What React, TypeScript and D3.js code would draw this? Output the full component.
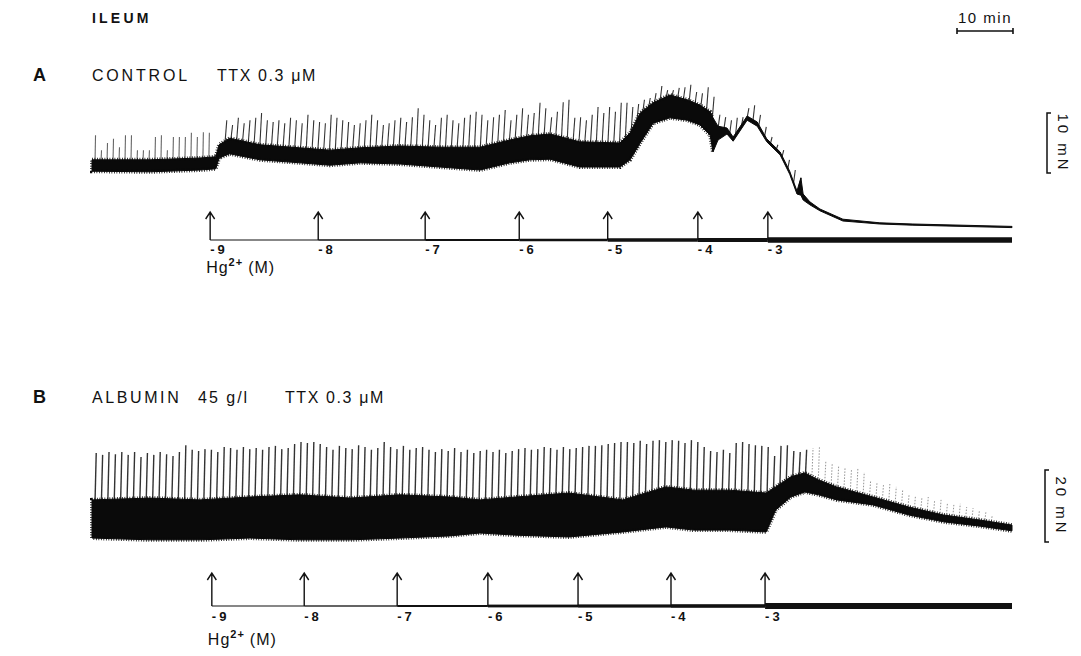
import { useEffect, useRef } from "react";
import * as d3 from "d3";

// time in minutes from the start of each record, force in mN
const doseLabels = ["-9", "-8", "-7", "-6", "-5", "-4", "-3"];
const doseTimesA = [21.1, 40.4, 59.5, 76.3, 92.1, 108.2, 120.7];
const doseTimesB = [21.4, 37.9, 54.5, 70.7, 86.8, 103.4, 120.2];
const recordEnd = 164.3;

// panel A: envelope of the fast tone band
const bandTimeA = [0, 10.4, 19.3, 22.1, 22.7, 24.6, 30, 37.1, 42.5, 47.9, 55, 62.1, 69.3, 74.6, 78.2, 81.8, 87.1, 94.3, 96.1, 97.9, 100.2, 103.2, 106.3, 108.6, 110.4, 110.9, 111.8, 113.4, 114.5, 117, 118.8, 120.5, 122.9, 124.6, 125.9, 126.6, 127, 128.2, 130, 134.1, 140.7, 146.6, 164.3];
const bandTopA = [11.7, 11.7, 12.0, 12.2, 14.2, 15.3, 14.2, 13.7, 13.3, 13.7, 14.0, 13.8, 13.8, 15.0, 15.7, 16.0, 14.7, 14.5, 16.2, 19.5, 21.2, 22.5, 21.7, 20.8, 19.7, 18.7, 17.3, 17.0, 15.5, 19.0, 18.0, 15.2, 13.0, 9.8, 6.5, 8.7, 6.0, 4.7, 3.5, 1.8, 1.2, 1.0, 0.6];
const bandBottomA = [9.8, 9.7, 10.0, 10.2, 12.0, 12.7, 11.7, 11.2, 10.8, 11.2, 11.0, 10.5, 10.0, 11.2, 11.7, 11.8, 10.5, 10.5, 11.7, 14.5, 17.8, 18.7, 18.3, 17.5, 15.8, 13.0, 15.0, 16.0, 14.8, 18.3, 17.3, 14.7, 12.5, 9.3, 6.0, 5.8, 5.0, 4.2, 3.2, 1.5, 1.0, 0.8, 0.4];

// panel A: phasic contractions (peak force), before and after the step
const preSpikeStartA = 0.54;
const preSpikeIntervalA = 1.07;
const preSpikeTipsA = [15.8, 13.3, 14.5, 15.2, 13.8, 15.8, 15.8, 13.3, 13.3, 13.3, 15.5, 15.8, 13.3, 15.5, 15.5, 15.5, 16.2, 15.5, 16.3, 16.2];
const spikeStartA = 23.75;
const spikeIntervalA = 1.036;
const spikeTipsA = [
  18.3, 17.5, 18.7, 17.8, 18.3, 18.7, 19.5, 18.3, 18.0, 18.3,
  17.8, 18.7, 18.3, 17.8, 19.2, 18.3, 18.0, 17.8, 19.2, 18.7,
  18.3, 18.0, 17.5, 17.8, 18.3, 19.2, 18.3, 17.5, 17.8, 18.3,
  18.7, 18.0, 18.8, 20.3, 19.2, 18.3, 17.5, 18.7, 19.2, 18.3,
  17.8, 18.7, 19.2, 19.7, 19.2, 18.3, 18.8, 19.2, 20.0, 18.3,
  19.2, 20.3, 19.2, 19.5, 21.2, 20.3, 18.8, 19.7, 21.3, 21.7,
  18.7, 18.8, 18.3, 19.2, 20.5, 19.5, 20.5, 19.7, 21.2, 21.2,
  20.5, 21.0, 21.7, 22.0, 22.8, 24.0, 23.3, 23.3, 23.7, 23.8,
  24.2, 23.0, 22.8, 23.8, 22.2, 19.2, 18.8, 18.3, 18.7, 18.8,
  20.3, 20.8, 19.2, 17.2, 15.5, 14.2, 13.3, 11.7, 10.0, 8.7,
];

// panel B
const bandTimeB = [0, 10.4, 19.3, 28.2, 37.1, 46.1, 55, 63.9, 69.3, 75.7, 85.2, 94.8, 102.5, 107.5, 113.9, 120.4, 122.1, 124.8, 127.3, 129.8, 133, 139.5, 145.9, 152.1, 158.6, 164.3];
const bandTopB = [16.7, 17.2, 16.7, 17.5, 18.1, 17.2, 18.1, 17.5, 16.7, 17.5, 18.6, 16.7, 20.3, 19.4, 19.4, 18.6, 20.3, 23.1, 24.2, 22.2, 20.3, 17.5, 14.7, 12.5, 11.1, 9.7];
const bandBottomB = [6.1, 5.6, 5.6, 6.1, 5.6, 5.6, 6.1, 6.7, 7.5, 6.9, 6.4, 7.8, 9.2, 8.3, 8.3, 7.8, 13.9, 17.5, 18.9, 18.1, 16.7, 15.3, 12.5, 10.6, 9.4, 8.1];
const spikeStartB = 0.54;
const spikeIntervalB = 1.143;
const spikeTipsB = [
  29.7, 29.2, 30.0, 29.4, 30.0,
  29.2, 30.0, 28.6, 29.7, 29.2, 30.0, 29.4, 28.9, 30.0,
  31.9,
  30.6, 30.3, 30.8, 30.6, 30.0,
  31.4,
  31.1, 30.6, 31.4, 30.8, 31.1, 30.6, 31.4, 31.7, 30.8, 31.1,
  32.2, 32.8, 32.5, 32.8, 32.2,
  31.4, 30.6, 31.7, 31.1, 30.8, 31.9, 31.4, 30.6, 31.1,
  32.8,
  31.4, 30.8, 31.7, 30.6, 31.1, 31.4,
  30.6, 30.0, 30.8, 30.3, 31.1, 30.0, 30.6, 29.7, 30.3, 30.6,
  30.0, 30.6, 29.7, 30.3, 30.8,
  31.1,
  30.6, 30.8, 31.4, 31.1, 30.6, 31.4, 30.8,
  31.1, 31.4, 31.7, 31.7, 31.9,
  32.2, 32.5, 32.8, 32.8, 32.5, 33.1, 32.2,
  33.1, 33.3, 32.8, 33.3, 33.1, 32.5, 33.3, 32.8,
  31.4, 30.3, 30.0, 30.6, 29.7,
  32.5, 32.8, 32.2, 31.9, 31.7,
  31.4, 28.9, 31.7, 31.9,
  30.3, 30.0, 30.6,
  31.1, 31.4,
  27.5, 26.9, 26.1,
  25.6, 25.0, 25.3, 24.4,
  22.2, 21.7, 20.8, 21.1, 20.3,
  19.4, 18.1, 17.8, 17.2, 17.5, 16.7,
  16.7, 15.8, 15.3, 15.6, 14.7, 14.4, 13.9, 13.3, 12.5,
];

const FONT = "'Liberation Sans', Arial, Helvetica, sans-serif";
// widths of the Hg2+ marker line, thin to thick with dose
const barWeightsA = [1, 1.5, 2, 2.5, 3.5, 4, 5.5];
const barWeightsB = [1, 1.3, 2, 2.8, 3.2, 3.6, 6];

export default function App() {
  const ref = useRef<SVGSVGElement>(null);

  useEffect(() => {
    document.body.style.margin = "0";
    const svg = d3.select(ref.current);
    svg.selectAll("*").remove();

    const x = d3.scaleLinear().domain([0, recordEnd]).range([92, 1012]);
    const yA = d3.scaleLinear().domain([0, 10]).range([230, 170]);
    const yB = d3.scaleLinear().domain([0, 20]).range([560, 488]);

    const text = (tx: number, ty: number, s: string, size: number, opts: any = {}) =>
      svg.append("text")
        .attr("x", tx)
        .attr("y", ty)
        .attr("font-family", FONT)
        .attr("font-size", size)
        .attr("font-weight", opts.bold ? "bold" : "normal")
        .attr("letter-spacing", opts.ls ?? 0)
        .attr("fill", "#111")
        .text(s);

    text(92, 23, "ILEUM", 14, { bold: true, ls: 3.2 });
    text(33, 81, "A", 18, { bold: true });
    text(92, 81, "CONTROL", 16, { ls: 2.8 });
    text(217, 81, "TTX 0.3 μM", 16, { ls: 1.6 });
    text(33, 403, "B", 18, { bold: true });
    text(92, 403, "ALBUMIN", 16, { ls: 2.6 });
    text(198, 403, "45 g/l", 16, { ls: 2 });
    text(285, 403, "TTX 0.3 μM", 16, { ls: 1.6 });

    // 10 min time bar
    const barY = 31;
    const x0 = 957;
    const x1 = x0 + (x(10) - x(0));
    svg.append("path")
      .attr("d", `M${x0},${barY} H${x1} M${x0},${barY - 3} V${barY + 3} M${x1},${barY - 3} V${barY + 3}`)
      .attr("stroke", "#111").attr("stroke-width", 1.6).attr("fill", "none");
    svg.append("text")
      .attr("x", (x0 + x1) / 2).attr("y", barY - 8)
      .attr("text-anchor", "middle")
      .attr("font-family", FONT).attr("font-size", 15).attr("letter-spacing", 1.5)
      .attr("fill", "#111")
      .text("10 min");

    // force calibration brackets
    const bracket = (bx: number, top: number, bottom: number, label: string) => {
      svg.append("path")
        .attr("d", `M${bx + 4},${top} H${bx} V${bottom} H${bx + 4}`)
        .attr("stroke", "#111").attr("stroke-width", 1.5).attr("fill", "none");
      svg.append("text")
        .attr("transform", `translate(${bx + 11},${(top + bottom) / 2}) rotate(90)`)
        .attr("text-anchor", "middle")
        .attr("font-family", FONT).attr("font-size", 15).attr("letter-spacing", 3)
        .attr("fill", "#111")
        .text(label);
    };
    const topA = 113;
    bracket(1047, topA, topA + (yA(0) - yA(10)), "10 mN");
    const topB = 470;
    bracket(1045, topB, topB + (yB(0) - yB(20)), "20 mN");

    const defs = svg.append("defs");

    const drawTrace = (
      id: string,
      y: d3.ScaleLinear<number, number>,
      times: number[], tops: number[], bottoms: number[],
      fringeUntil: number,
      trains: { start: number; interval: number; tips: number[]; lean: number; color: string; width: number; faintAfter: number }[]
    ) => {
      const g = svg.append("g");
      const topAt = d3.scaleLinear().domain(times).range(tops).clamp(true);
      trains.forEach(tr => {
        tr.tips.forEach((tip, i) => {
          const t = tr.start + i * tr.interval;
          const faint = t > tr.faintAfter;
          g.append("line")
            .attr("x1", x(t))
            .attr("y1", y(topAt(t)) + 2)
            .attr("x2", x(t) + tr.lean)
            .attr("y2", y(tip))
            .attr("stroke", faint ? "#888" : tr.color)
            .attr("stroke-width", faint ? 0.9 : tr.width)
            .attr("stroke-dasharray", faint ? "1.5 1.5" : null);
        });
      });
      const idx = d3.range(times.length);
      const area = d3.area<number>()
        .x(i => x(times[i]))
        .y0(i => y(bottoms[i]))
        .y1(i => y(tops[i]));
      g.append("path")
        .attr("d", area(idx))
        .attr("fill", "#0a0a0a")
        .attr("stroke", "#0a0a0a")
        .attr("stroke-width", 1)
        .attr("stroke-linejoin", "round");
      // ragged pen fringe along the edges of the thick part of the band
      defs.append("clipPath").attr("id", id)
        .append("rect")
        .attr("x", 0).attr("y", 0)
        .attr("width", x(fringeUntil)).attr("height", 656);
      g.append("path")
        .attr("d", area(idx))
        .attr("clip-path", `url(#${id})`)
        .attr("fill", "none")
        .attr("stroke", "#0a0a0a")
        .attr("stroke-width", 4)
        .attr("stroke-dasharray", "0.8 1.7");
    };

    drawTrace("fringeA", yA, bandTimeA, bandTopA, bandBottomA, 111, [
      { start: preSpikeStartA, interval: preSpikeIntervalA, tips: preSpikeTipsA, lean: 0.5, color: "#666", width: 1.1, faintAfter: 999 },
      { start: spikeStartA, interval: spikeIntervalA, tips: spikeTipsA, lean: 1.8, color: "#333", width: 1.1, faintAfter: 999 },
    ]);
    drawTrace("fringeB", yB, bandTimeB, bandTopB, bandBottomB, recordEnd, [
      { start: spikeStartB, interval: spikeIntervalB, tips: spikeTipsB, lean: 1.2, color: "#333", width: 1.4, faintAfter: 128 },
    ]);

    const drawDoses = (times: number[], weights: number[], lineY: number, arrowLen: number, labelY: number, hgY: number) => {
      const g = svg.append("g");
      times.forEach((t, i) => {
        const next = i < times.length - 1 ? times[i + 1] : recordEnd;
        const w = weights[i];
        g.append("rect")
          .attr("x", x(t))
          .attr("y", lineY - w / 2)
          .attr("width", x(next) - x(t))
          .attr("height", w)
          .attr("fill", "#111");
        const ax = x(t);
        const top = lineY - arrowLen;
        g.append("path")
          .attr("d", `M${ax},${lineY} V${top} M${ax - 4.5},${top + 7} L${ax},${top} L${ax + 4.5},${top + 7}`)
          .attr("stroke", "#111").attr("stroke-width", 1.4).attr("fill", "none");
        g.append("text")
          .attr("x", ax)
          .attr("y", labelY)
          .attr("font-family", FONT).attr("font-size", 13).attr("font-weight", "bold")
          .attr("letter-spacing", 3)
          .attr("fill", "#111")
          .text(doseLabels[i]);
      });
      const hg = g.append("text")
        .attr("x", x(times[0]) - 4)
        .attr("y", hgY)
        .attr("font-family", FONT).attr("font-size", 16)
        .attr("letter-spacing", 1)
        .attr("fill", "#111");
      hg.append("tspan").text("Hg");
      hg.append("tspan").attr("dy", -7).attr("font-size", 11).attr("font-weight", "bold").text("2+");
      hg.append("tspan").attr("dy", 7).attr("dx", 5).text("(M)");
    };

    drawDoses(doseTimesA, barWeightsA, 240, 28, 254, 273);
    drawDoses(doseTimesB, barWeightsB, 606, 33, 621, 645);
  }, []);

  return <svg ref={ref} width={1081} height={656} style={{ display: "block", background: "#fff" }} />;
}
